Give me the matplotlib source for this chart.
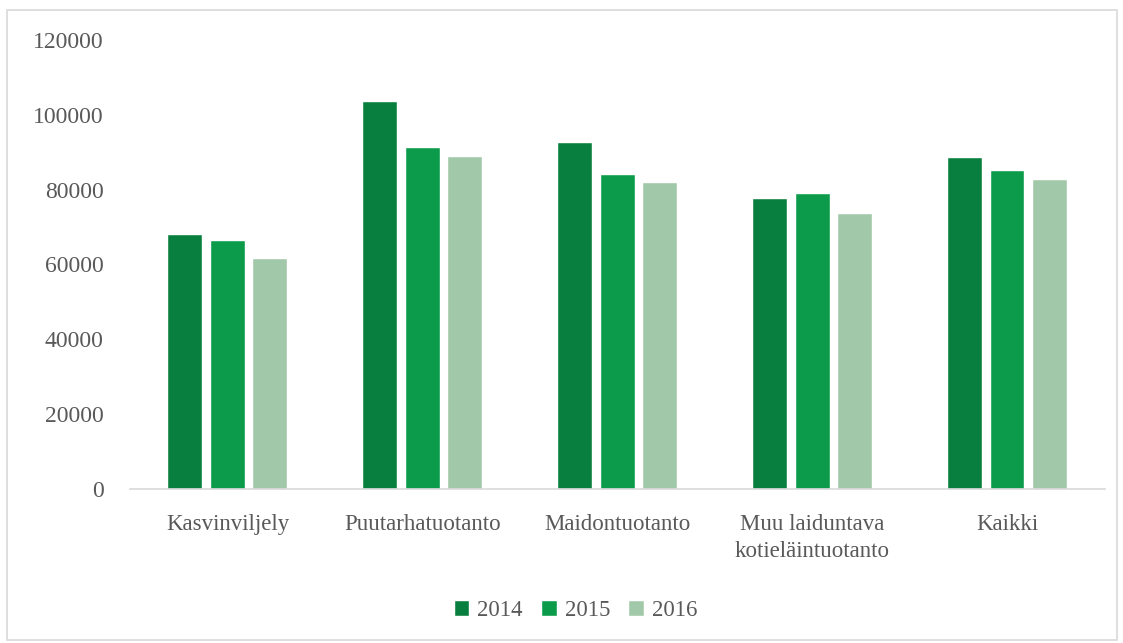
import matplotlib.pyplot as plt
import numpy as np
from matplotlib.patches import Rectangle

# Data
categories = ['Kasvinviljely', 'Puutarhatuotanto', 'Maidontuotanto',
              'Muu laiduntava\nkotieläintuotanto', 'Kaikki']
years = ['2014', '2015', '2016']
v2014 = [67900, 103400, 92500, 77500, 88500]
v2015 = [66300, 91100, 84000, 78900, 85000]
v2016 = [61400, 88800, 81800, 73500, 82600]
colors = ['#087f3e', '#0b9b4a', '#a2c8aa']

plt.rcParams['font.family'] = ['Liberation Serif', 'DejaVu Serif']
text_color = '#595959'

fig = plt.figure(figsize=(11.23, 6.43), dpi=100)
ax = fig.add_axes([0.1158, 0.2395, 0.8682, 0.6983])

x = np.arange(len(categories))
width = 0.174
step = 0.22
for i, (vals, lab) in enumerate(zip([v2014, v2015, v2016], years)):
    ax.bar(x + (i - 1) * step, vals, width, color=colors[i], label=lab,
           edgecolor='white', linewidth=0.3)

ax.set_xlim(-0.5, len(categories) - 0.5)
ax.set_ylim(0, 120000)
ax.set_yticks(np.arange(0, 120001, 20000))
ax.set_xticks(x)
ax.set_xticklabels(categories, linespacing=1.35)

for s in ['top', 'right', 'left']:
    ax.spines[s].set_visible(False)
ax.spines['bottom'].set_color('#d9d9d9')
ax.spines['bottom'].set_linewidth(1.2)
ax.tick_params(axis='both', length=0, labelcolor=text_color)
ax.tick_params(axis='y', pad=19, labelsize=17)
ax.tick_params(axis='x', pad=18, labelsize=16.5)

leg = fig.legend(loc='center', bbox_to_anchor=(0.513, 0.05), ncol=3, frameon=False,
                 fontsize=16.5, handlelength=0.62, handleheight=0.62,
                 handletextpad=0.35, columnspacing=0.85)
for t in leg.get_texts():
    t.set_color(text_color)

# outer frame
fig.patches.append(Rectangle((0.0065, 0.004), 0.988, 0.98, transform=fig.transFigure,
                             fill=False, edgecolor='#d9d9d9', linewidth=1.2))

plt.savefig('out.png', dpi=100)
